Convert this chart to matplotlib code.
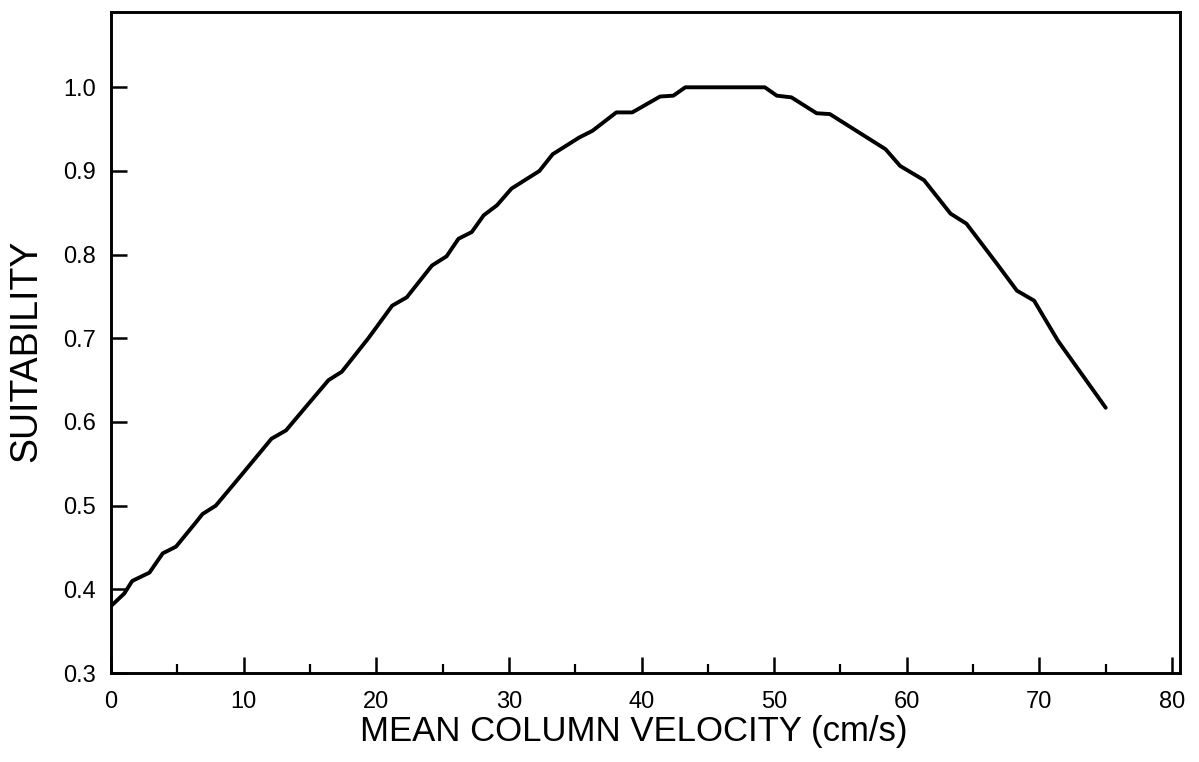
import matplotlib
matplotlib.use('Agg')
import matplotlib.pyplot as plt
import numpy as np

# Оцифрованная кривая пригодности (по изображению)
velocity = [0, 1, 1.6, 2.9, 3.9, 4.9, 6.4, 6.9, 7.9, 9.8, 12.1, 13.2, 14.9,
            16.4, 17.4, 19.4, 21.2, 22.3, 24.2, 25.3, 26.2, 27.2, 28.1, 29.1,
            30.2, 31.3, 32.3, 33.3, 35.3, 36.3, 38.1, 39.3, 41.4, 42.4, 43.3,
            49.3, 50.2, 51.3, 53.2, 54.2, 57.2, 58.4, 59.5, 61.3, 63.3, 64.5,
            66.8, 68.3, 69.6, 71.4, 75]
suitability = [0.38, 0.395, 0.41, 0.42, 0.443, 0.451, 0.48, 0.49, 0.50, 0.536,
               0.58, 0.59, 0.622, 0.65, 0.66, 0.70, 0.739, 0.749, 0.787, 0.798,
               0.819, 0.827, 0.847, 0.859, 0.879, 0.89, 0.90, 0.92, 0.94, 0.948,
               0.97, 0.97, 0.989, 0.99, 1.0, 1.0, 0.99, 0.988, 0.969, 0.968,
               0.938, 0.926, 0.906, 0.889, 0.849, 0.837, 0.789, 0.757, 0.745,
               0.697, 0.617]

x_major = np.arange(0, 81, 10)
x_minor = np.arange(5, 80, 10)
y_major = [0.3, 0.4, 0.5, 0.6, 0.7, 0.8, 0.9, 1.0]

plt.rcParams['font.family'] = ['Liberation Sans', 'DejaVu Sans']

fig = plt.figure(figsize=(11.99, 7.62), dpi=100)
# оси: слева 111 px, справа 1180 px, сверху 12 px, снизу 673 px
ax = fig.add_axes([111 / 1199, 1 - 673 / 762, 1069 / 1199, 661 / 762])

ax.plot(velocity, suitability, color='black', lw=2.8, solid_capstyle='round',
        solid_joinstyle='round')

ax.set_xlim(0, 80.6)
ax.set_ylim(0.3, 1.09)
ax.set_xticks(x_major)
ax.set_xticks(x_minor, minor=True)
ax.set_yticks(y_major)
ax.set_yticklabels(['%.1f' % v for v in y_major])

for s in ax.spines.values():
    s.set_linewidth(2.1)

ax.tick_params(axis='both', which='major', direction='in', length=11.5, width=1.8,
               labelsize=17)
ax.tick_params(axis='x', which='major', pad=13)
ax.tick_params(axis='y', which='major', pad=11)
ax.tick_params(axis='x', which='minor', direction='in', length=6.5, width=1.6)
ax.tick_params(top=False, right=False)

ax.set_xlabel('MEAN COLUMN VELOCITY (cm/s)', fontsize=25)
ax.set_ylabel('SUITABILITY', fontsize=27)
ax.xaxis.set_label_coords(0.489, -0.064)
ax.yaxis.set_label_coords(-0.062, 0.488)

plt.savefig('out.png', dpi=100)
